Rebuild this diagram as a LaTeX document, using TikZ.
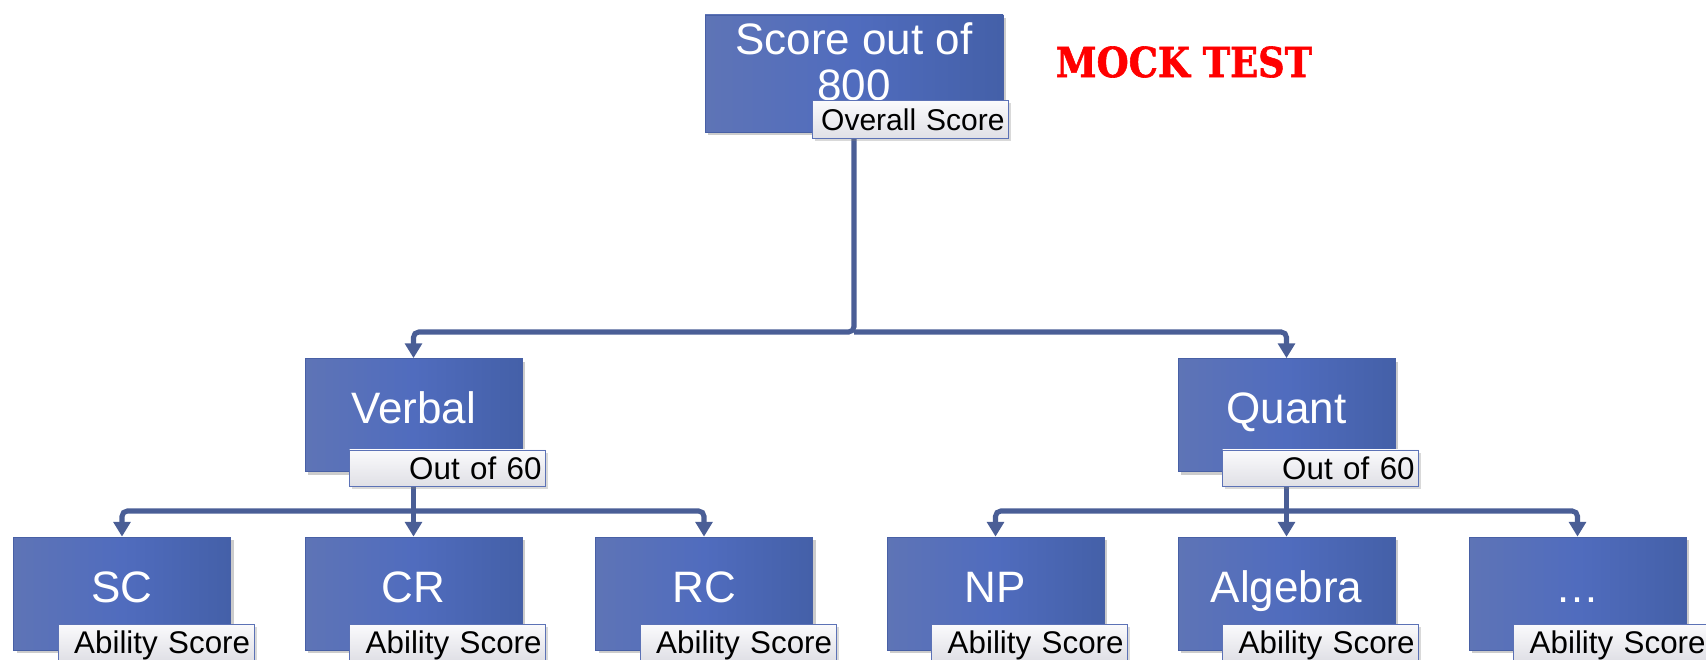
\documentclass[tikz,border=0pt]{standalone}
\usepackage{fontspec}
\setmainfont{Liberation Sans}
\newfontfamily\mockfont{DejaVu Serif}[BoldFeatures={FakeBold=1.5}]
\usepackage{graphicx}
\usetikzlibrary{arrows.meta,shadows,calc,backgrounds}
\definecolor{boxL}{RGB}{94,116,182}
\definecolor{boxM}{RGB}{80,108,190}
\definecolor{boxR}{RGB}{68,96,168}
\definecolor{boxEdge}{RGB}{72,96,165}
\definecolor{connC}{RGB}{74,94,150}
\definecolor{labTop}{RGB}{250,250,252}
\definecolor{labBot}{RGB}{224,224,230}
\definecolor{labEdge}{RGB}{92,114,182}
\begin{document}
\begin{tikzpicture}[x=0.75pt,y=-0.75pt,
  box/.style={rectangle, minimum width=162.75pt, minimum height=84.75pt, inner sep=0pt,
    left color=boxL, right color=boxR, middle color=boxM, draw=boxEdge, line width=0.6pt,
    drop shadow={opacity=0.4, shadow xshift=2.5pt, shadow yshift=-2.5pt}},
  boxtext/.style={text=white, inner sep=0pt, font=\fontsize{33}{34.5}\selectfont,
    text height=23.6pt, text depth=0pt},
  lab/.style={rectangle, minimum width=147pt, minimum height=27pt, inner xsep=3pt, inner ysep=0pt,
    top color=labTop, bottom color=labBot, draw=labEdge, line width=0.6pt,
    font=\fontsize{23.5}{25}\selectfont, text width=141pt, align=right,
    text height=16.8pt, text depth=0pt,
    drop shadow={opacity=0.3, shadow xshift=2pt, shadow yshift=-2pt}},
  conn/.style={draw=connC, line width=3.8pt, rounded corners=4pt,
    -{Triangle[length=11pt,width=12.5pt]}},
  mock/.style={text=red, inner sep=0pt, font=\mockfont\bfseries\fontsize{31}{32}\selectfont}
]
\useasboundingbox (0,0) rectangle (1706,660);

% boxes
\node[box, minimum width=223.5pt, minimum height=87.75pt] (top) at (854,73.5) {};
\node[box] (verbal) at (413.5,415) {};
\node[box] (quant) at (1286.5,415) {};
\node[box] (sc) at (122,593.5) {};
\node[box] (cr) at (413.5,593.5) {};
\node[box] (rc) at (704,593.5) {};
\node[box] (np) at (995.5,593.5) {};
\node[box] (alg) at (1286.5,593.5) {};
\node[box] (dots) at (1577.5,593.5) {};

% box texts
\node[boxtext, text height=, text depth=, align=center] (topt) at (854,62) {Score out of\\800};
\node[boxtext] (verbalt) at (413.5,408) {Verbal};
\node[boxtext] (quantt) at (1286.5,408) {Quant};
\node[boxtext] (sct) at (122,587) {SC};
\node[boxtext] (crt) at (413.5,587) {CR};
\node[boxtext] (rct) at (704,587) {RC};
\node[boxtext] (npt) at (995.5,587) {NP};
\node[boxtext] (algt) at (1286.5,587) {Algebra};
\node[boxtext] (dotst) at (1577.5,587) {…};

% labels
\node[lab, minimum height=28.5pt, font=\fontsize{22.5}{24}\selectfont] (ovl) at ($(top.south west)+(206,-13)$) {Overall Score};
\node[lab] (verball) at ($(verbal.south west)+(143,-4)$) {Out of 60};
\node[lab] (quantl) at ($(quant.south west)+(143,-4)$) {Out of 60};
\node[lab] (scl) at ($(sc.south west)+(143,-8)$) {Ability Score};
\node[lab] (crl) at ($(cr.south west)+(143,-8)$) {Ability Score};
\node[lab] (rcl) at ($(rc.south west)+(143,-8)$) {Ability Score};
\node[lab] (npl) at ($(np.south west)+(143,-8)$) {Ability Score};
\node[lab] (algl) at ($(alg.south west)+(143,-8)$) {Ability Score};
\node[lab] (dotsl) at ($(dots.south west)+(143,-8)$) {Ability Score};

% title
\node[mock] (mock) at (1184,62) {\scalebox{0.89}[1]{MOCK TEST}};

% connectors
\coordinate (j1) at (top.south |- 0,332);
\coordinate (j2) at (verbal.south |- 0,511);
\coordinate (j3) at (quant.south |- 0,511);
\begin{scope}[on background layer]
\draw[conn] (top.south) -- (j1) -| (verbal.north);
\draw[conn] (j1) -| (quant.north);
\draw[conn] (verbal.south) -- (cr.north);
\draw[conn] (j2) -| (sc.north);
\draw[conn] (j2) -| (rc.north);
\draw[conn] (quant.south) -- (alg.north);
\draw[conn] (j3) -| (np.north);
\draw[conn] (j3) -| (dots.north);
\end{scope}
\end{tikzpicture}
\end{document}
